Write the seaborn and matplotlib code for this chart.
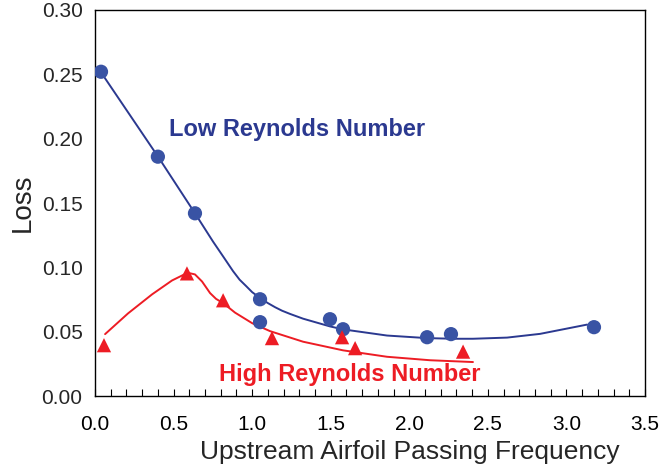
import numpy as np
import pandas as pd
import seaborn as sns
import matplotlib
matplotlib.use("Agg")
import matplotlib.pyplot as plt
from matplotlib.ticker import MultipleLocator

# Measured loss values
low_freq = [0.038, 0.40, 0.636, 1.05, 1.05, 1.495, 1.578, 2.113, 2.265, 3.175]
low_loss = [0.252, 0.186, 0.142, 0.0752, 0.0574, 0.0597, 0.0519, 0.0457, 0.0481, 0.0535]

high_freq = [0.057, 0.585, 0.815, 1.126, 1.572, 1.655, 2.342]
high_loss = [0.0395, 0.0953, 0.0744, 0.045, 0.0457, 0.0372, 0.0345]

# Trend curves
low_fit_freq = [0.019, 0.401, 0.636, 0.751, 0.820, 0.878, 0.920, 0.961, 1.000, 1.050,
                1.100, 1.146, 1.190, 1.241, 1.324, 1.495, 1.578, 1.858, 2.113, 2.278,
                2.405, 2.622, 2.832, 3.131]
low_fit_loss = [0.255, 0.186, 0.142, 0.120, 0.1076, 0.0971, 0.0904, 0.0855, 0.0807, 0.0762,
                0.0722, 0.0690, 0.0663, 0.0638, 0.0601, 0.0541, 0.0518, 0.0470, 0.0450,
                0.0445, 0.0445, 0.0454, 0.0483, 0.0555]

high_fit_freq = [0.064, 0.210, 0.363, 0.490, 0.573, 0.600, 0.636, 0.681, 0.732, 0.770,
                 0.808, 0.850, 0.891, 1.000, 1.114, 1.324, 1.578, 1.858, 2.132, 2.405]
high_fit_loss = [0.0481, 0.0642, 0.0790, 0.0898, 0.0948, 0.0955, 0.0945, 0.0890, 0.0800,
                 0.0755, 0.0727, 0.0688, 0.0648, 0.0566, 0.0504, 0.0422, 0.0355, 0.0305,
                 0.0278, 0.0264]

x_ticks = [0.0, 0.5, 1.0, 1.5, 2.0, 2.5, 3.0, 3.5]
y_ticks = [0.00, 0.05, 0.10, 0.15, 0.20, 0.25, 0.30]

sns.set_style("white")
plt.rcParams["font.family"] = ["Liberation Sans", "DejaVu Sans"]

NAVY = "#2b3990"
BLUE = "#3953a4"
RED = "#ed1c24"

fig = plt.figure(figsize=(6.65, 4.71), dpi=100)
ax = fig.add_axes([0.1429, 0.1592, 0.8271, 0.8196])

low_fit = pd.DataFrame({"f": low_fit_freq, "loss": low_fit_loss})
high_fit = pd.DataFrame({"f": high_fit_freq, "loss": high_fit_loss})
low = pd.DataFrame({"f": low_freq, "loss": low_loss})
high = pd.DataFrame({"f": high_freq, "loss": high_loss})

sns.lineplot(data=low_fit, x="f", y="loss", ax=ax, color=NAVY, lw=1.4, sort=False)
sns.lineplot(data=high_fit, x="f", y="loss", ax=ax, color=RED, lw=1.4, sort=False)
for line in ax.lines:
    line.set_solid_joinstyle("round")
    line.set_solid_capstyle("round")
sns.scatterplot(data=low, x="f", y="loss", ax=ax, color=BLUE, marker="o", s=105,
                edgecolor="none", zorder=3)
sns.scatterplot(data=high, x="f", y="loss", ax=ax, color=RED, marker="^", s=105,
                edgecolor="none", zorder=3)

ax.text(0.47, 0.207, "Low Reynolds Number", color=NAVY, fontsize=17,
        fontweight="bold", va="center", ha="left")
ax.text(0.79, 0.017, "High Reynolds Number", color=RED, fontsize=17,
        fontweight="bold", va="center", ha="left")

ax.set_xlim(0, 3.5)
ax.set_ylim(0, 0.30)
ax.set_xticks(x_ticks)
ax.set_xticklabels([f"{v:.1f}" for v in x_ticks])
ax.set_yticks(y_ticks)
ax.set_yticklabels([f"{v:.2f}" for v in y_ticks])
ax.xaxis.set_minor_locator(MultipleLocator(0.1))
ax.tick_params(axis="x", which="both", direction="in", length=5, width=0.8,
               labelsize=15, pad=14, bottom=True, colors="black")
ax.tick_params(axis="y", which="both", length=0, labelsize=15, pad=9)
ax.set_xlabel("Upstream Airfoil Passing Frequency", fontsize=19, labelpad=1)
ax.xaxis.set_label_coords(0.573, -0.115)
ax.set_ylabel("Loss", fontsize=20, labelpad=4)
for s in ax.spines.values():
    s.set_color("black")
    s.set_linewidth(1.0)

fig.savefig("out.png", dpi=100)
